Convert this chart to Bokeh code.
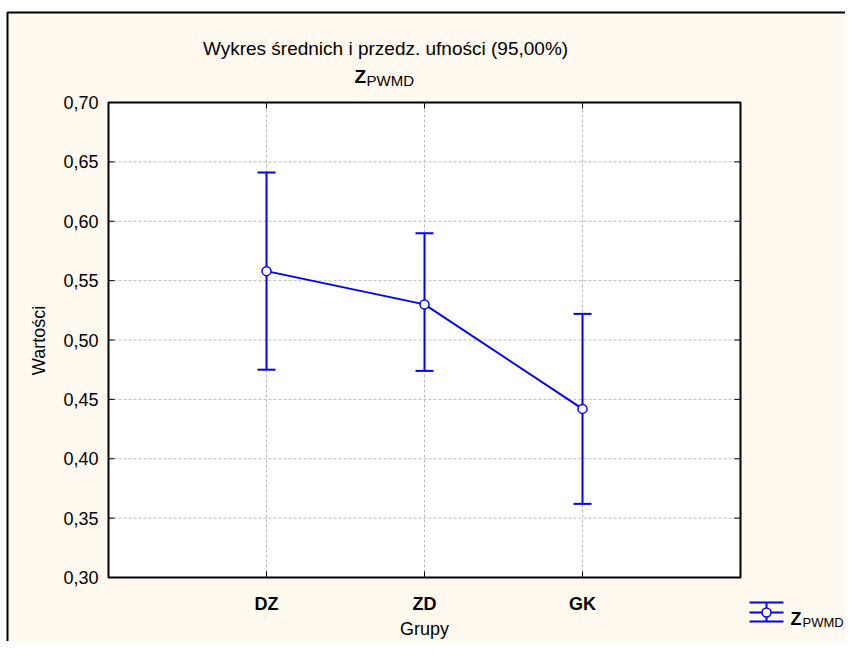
import math
from bokeh.plotting import figure
from bokeh.models import Label, BoxAnnotation, Range1d, ColumnDataSource
from bokeh.core.properties import value
from bokeh.embed import file_html
from bokeh.resources import INLINE

# ---- data ----
groups = ["DZ", "ZD", "GK"]
means = [0.558, 0.530, 0.442]
ci_lower = [0.475, 0.474, 0.362]
ci_upper = [0.641, 0.590, 0.522]
y_ticks = [0.30, 0.35, 0.40, 0.45, 0.50, 0.55, 0.60, 0.65, 0.70]
y_tick_labels = ["0,30", "0,35", "0,40", "0,45", "0,50", "0,55", "0,60", "0,65", "0,70"]
title_text = "Wykres średnich i przedz. ufności (95,00%)"
var_main = "Z"
var_sub = "PWMD"
x_label = "Grupy"
y_label = "Wartości"

# ---- layout (pixels) ----
W, H = 845, 641
PL, PR, PT, PB = 108, 740, 102, 577      # plot-area box
FONT = "Liberation Sans"
CREAM = "#FFF9EF"
BLUE = "#0000FF"
GRID = "#BDBDBD"

xs = list(range(1, len(groups) + 1))
X0, X1 = 0, len(groups) + 1
Y0, Y1 = y_ticks[0], y_ticks[-1]
kx = (X1 - X0) / (PR - PL)
ky = (Y1 - Y0) / (PB - PT)


def px_x(px):
    return X0 + (px - PL) * kx


def px_y(py):
    return Y0 + (PB - py) * ky


p = figure(width=W, height=H, min_border=0, x_axis_location=None, y_axis_location=None,
           x_range=Range1d(px_x(0), px_x(W)), y_range=Range1d(px_y(H), px_y(0)),
           output_backend="svg", toolbar_location=None,
           background_fill_color="white", border_fill_color="white", outline_line_color=None)
p.xgrid.visible = False
p.ygrid.visible = False

# chart background with outer frame
p.quad(left=px_x(7), right=px_x(W + 20), top=px_y(12), bottom=px_y(H + 20),
       fill_color=CREAM, line_color="black", line_width=2)

# plot area
p.quad(left=X0, right=X1, bottom=Y0, top=Y1, fill_color="white", line_color=None)

# grid
inner_y = y_ticks[1:-1]
p.segment(x0=[X0] * len(inner_y), x1=[X1] * len(inner_y), y0=inner_y, y1=inner_y,
          line_color=GRID, line_dash="3 2", line_width=1)
p.segment(x0=xs, x1=xs, y0=[Y0] * len(xs), y1=[Y1] * len(xs),
          line_color=GRID, line_dash="3 2", line_width=1)

# inward ticks (6 px)
n = len(y_ticks)
p.segment(x0=[X0] * n, x1=[px_x(PL + 6)] * n, y0=y_ticks, y1=y_ticks, line_color="black", line_width=1)
p.segment(x0=[px_x(PR - 6)] * n, x1=[X1] * n, y0=y_ticks, y1=y_ticks, line_color="black", line_width=1)
m = len(xs)
p.segment(x0=xs, x1=xs, y0=[Y0] * m, y1=[px_y(PB - 6)] * m, line_color="black", line_width=1)
p.segment(x0=xs, x1=xs, y0=[px_y(PT + 6)] * m, y1=[Y1] * m, line_color="black", line_width=1)

# error bars, means
src = ColumnDataSource(dict(x=xs, mean=means, lower=ci_lower, upper=ci_upper))
p.segment(x0="x", x1="x", y0="lower", y1="upper", source=src, line_color=BLUE, line_width=2)
p.scatter("x", "lower", source=src, marker="dash", size=18, line_color=BLUE, line_width=2)
p.scatter("x", "upper", source=src, marker="dash", size=18, line_color=BLUE, line_width=2)
p.line("x", "mean", source=src, line_color=BLUE, line_width=2)
p.scatter("x", "mean", source=src, size=9, fill_color="white", line_color=BLUE, line_width=1.5)

# plot-area border
p.add_layout(BoxAnnotation(left=X0, right=X1, bottom=Y0, top=Y1, fill_alpha=0,
                           line_color="black", line_width=2, line_alpha=1))

# tick labels
p.text(x=[px_x(PL - 10)] * n, y=y_ticks, text=y_tick_labels, text_align="right",
       text_baseline="middle", text_font=value(FONT), text_font_size="18px", text_color="black")
p.text(x=xs, y=[px_y(603)] * m, text=groups, text_align="center", text_baseline="middle",
       text_font=value(FONT), text_font_size="18px", text_font_style="bold", text_color="black")

# axis labels
p.add_layout(Label(x=px_x(38), y=px_y(340), text=y_label, angle=math.pi / 2,
                   text_align="center", text_baseline="middle", text_font=FONT,
                   text_font_size="18px", text_color="black"))
p.add_layout(Label(x=(X0 + X1) / 2, y=px_y(628), text=x_label, text_align="center",
                   text_baseline="middle", text_font=FONT, text_font_size="18px", text_color="black"))

# titles
p.add_layout(Label(x=px_x(385), y=px_y(48), text=title_text, text_align="center",
                   text_baseline="alphabetic", text_font=FONT, text_font_size="19px", text_color="black"))
p.add_layout(Label(x=px_x(354), y=px_y(76), text=var_main, text_align="left",
                   text_baseline="alphabetic", text_font=FONT, text_font_size="19px",
                   text_font_style="bold", text_color="black"))
p.add_layout(Label(x=px_x(366), y=px_y(80), text=var_sub, text_align="left",
                   text_baseline="alphabetic", text_font=FONT, text_font_size="15px", text_color="black"))

# legend (manual error-bar symbol)
LX, LT, LM, LB, HW = 766, 602, 612, 621, 17
p.segment(x0=[px_x(LX - HW)] * 3, x1=[px_x(LX + HW)] * 3,
          y0=[px_y(LT), px_y(LM), px_y(LB)], y1=[px_y(LT), px_y(LM), px_y(LB)],
          line_color=BLUE, line_width=2)
p.segment(x0=[px_x(LX)], x1=[px_x(LX)], y0=[px_y(LT)], y1=[px_y(LB)], line_color=BLUE, line_width=2)
p.scatter(x=[px_x(LX)], y=[px_y(LM)], size=9, fill_color="white", line_color=BLUE, line_width=1.5)
p.add_layout(Label(x=px_x(790), y=px_y(618), text=var_main, text_align="left",
                   text_baseline="alphabetic", text_font=FONT, text_font_size="18px",
                   text_font_style="bold", text_color="black"))
p.add_layout(Label(x=px_x(802), y=px_y(622), text=var_sub, text_align="left",
                   text_baseline="alphabetic", text_font=FONT, text_font_size="13px", text_color="black"))

open("out.html", "w").write(file_html(p, INLINE))
